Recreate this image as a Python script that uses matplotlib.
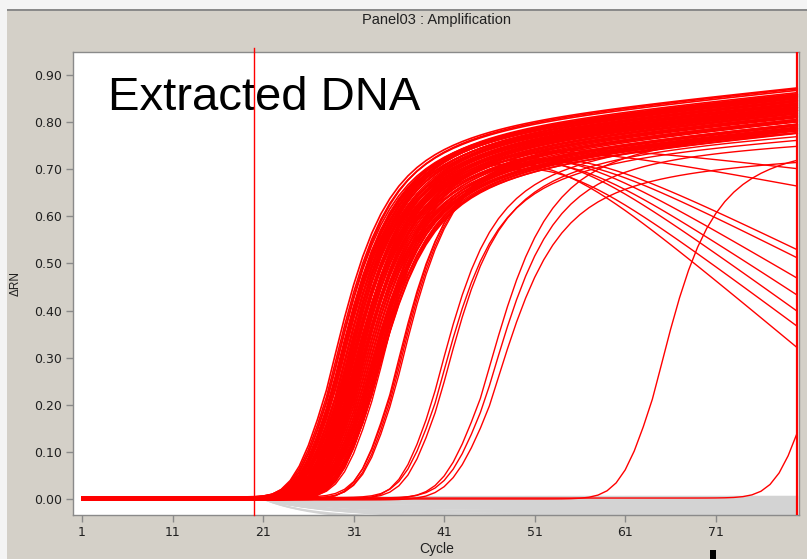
import numpy as np
import matplotlib
matplotlib.use("Agg")
import matplotlib.pyplot as plt
from matplotlib.patches import Rectangle

# ---------------- data ----------------
cycles = np.arange(1, 81)

x_ticks = [1, 11, 21, 31, 41, 51, 61, 71]
y_ticks = [0.00, 0.10, 0.20, 0.30, 0.40, 0.50, 0.60, 0.70, 0.80, 0.90]

# main dense bundle: midpoint cycle and end value (cycle 80)
bundle_mid = [27.9, 28.1, 28.2, 28.3, 28.4, 28.5, 28.6, 28.6, 28.7, 28.8,
              28.8, 28.9, 29.0, 29.0, 29.1, 29.1, 29.2, 29.2, 29.3, 29.3,
              29.4, 29.4, 29.5, 29.5, 29.6, 29.6, 29.7, 29.7, 29.8, 29.8,
              29.9, 29.9, 30.0, 30.0, 30.1, 30.1, 30.2, 30.2, 30.3, 30.3,
              30.4, 30.4, 30.5, 30.5, 30.6, 30.6, 30.7, 30.7, 30.8, 30.8,
              30.9, 30.9, 31.0, 31.0, 31.1, 31.1, 31.2, 31.3, 31.3, 31.4,
              31.5, 31.5, 31.6, 31.7, 31.8, 31.8, 31.9, 32.0, 32.1, 32.2,
              32.3, 32.3, 32.4, 32.5, 32.5]
bundle_end = [0.873, 0.866, 0.860, 0.868, 0.855, 0.862, 0.850, 0.858, 0.845, 0.864,
              0.852, 0.840, 0.856, 0.848, 0.835, 0.860, 0.843, 0.852, 0.830, 0.846,
              0.838, 0.855, 0.826, 0.842, 0.834, 0.850, 0.822, 0.840, 0.830, 0.846,
              0.818, 0.836, 0.826, 0.844, 0.814, 0.832, 0.822, 0.840, 0.810, 0.828,
              0.818, 0.836, 0.806, 0.824, 0.814, 0.832, 0.802, 0.820, 0.810, 0.828,
              0.798, 0.816, 0.806, 0.824, 0.794, 0.812, 0.802, 0.790, 0.808, 0.798,
              0.786, 0.804, 0.794, 0.782, 0.800, 0.790, 0.780, 0.796, 0.786, 0.778,
              0.792, 0.782, 0.788, 0.776, 0.784]
# small baseline offsets of individual wells
base_offset = [0.000, 0.002, -0.001, 0.003, 0.001, -0.002, 0.004, 0.000,
               0.002, -0.001, 0.003, 0.001, 0.000, 0.002, -0.002]

# later curves: midpoint, plateau level, drift, decline rate, decline start, steepness
late_mid = [32.6, 32.8, 33.0, 33.1, 33.3, 35.0, 35.2, 35.3, 35.5,
            39.6, 39.9, 40.3, 45.0, 45.4, 45.8, 64.1, 81.35]
late_end = [0.770, 0.770, 0.770, 0.770, 0.770, 0.770, 0.770, 0.770, 0.770,
            0.780, 0.760, 0.770, 0.780, 0.750, 0.720, 0.755, 0.750]
late_drift = [0.0, 0.0, 0.0, 0.0, 0.0, 0.0, 0.0, 0.0, 0.0,
              0.0015, 0.0015, 0.0015, 0.001, 0.001, 0.001, 0.0, 0.0]
late_decline = [0.0160, 0.0138, 0.0113, 0.0036, 0.0023, 0.0143, 0.0126, 0.0097, 0.0093,
                0.0, 0.0, 0.0, 0.0, 0.0, 0.0, 0.0, 0.0]
late_decline_start = [52, 53, 53.5, 50, 50, 52, 53, 53.5, 54,
                      80, 80, 80, 80, 80, 80, 80, 80]
late_steep = [2.6, 2.6, 2.6, 2.6, 2.6, 2.6, 2.6, 2.6, 2.6,
              2.6, 2.6, 2.6, 3.0, 3.0, 3.0, 2.6, 2.6]

# non-amplifying (grey) traces: level reached and how fast
grey_level = [0.005, 0.003, 0.001, -0.001, -0.003, -0.005, -0.007, -0.009,
              -0.011, -0.013, -0.015, -0.017, -0.019, -0.021, -0.023, -0.025,
              -0.027, -0.029, -0.031, -0.033, -0.036, -0.039, -0.042, -0.046]
grey_tau = [9, 12, 7, 10, 6, 8, 5, 9, 6, 11, 7, 5, 8, 6, 10, 7, 5, 9, 6, 8, 7, 5, 9, 6]

# ---------------- drawing ----------------
def amp_curve(c, mid, end, drift=0.002, steep=2.6, decline=0.0, dstart=80.0, base=0.0):
    nu = 0.4
    rich = (1.0 + nu * np.exp(-(c - mid) / steep)) ** (-1.0 / nu)
    plateau = end + drift * (c - 80) - 0.25 * np.exp(-np.maximum(c - mid, 0) / 8.0)
    t = 4.0
    drop = decline * t * np.log1p(np.exp((c - dstart) / t))
    return rich * plateau - drop + base

W, H = 807, 559
fig = plt.figure(figsize=(W / 100, H / 100), dpi=100, facecolor="#d4d0c8")

# window frame details
fig.patches.append(Rectangle((0, 1 - 9 / H), 1, 9 / H, transform=fig.transFigure,
                             facecolor="#f4f4f4", edgecolor="none", zorder=0))
fig.patches.append(Rectangle((0, 0), 7 / W, 1, transform=fig.transFigure,
                             facecolor="#f4f4f4", edgecolor="none", zorder=0))
fig.patches.append(Rectangle((7 / W, 1 - 11 / H), 1, 2 / H, transform=fig.transFigure,
                             facecolor="#8a8a8a", edgecolor="none", zorder=0))
fig.patches.append(Rectangle((710 / W, 0), 6 / W, 9 / H, transform=fig.transFigure,
                             facecolor="black", edgecolor="none", zorder=5))

ax = fig.add_axes([73 / W, 1 - 515 / H, (799 - 73) / W, (515 - 51.5) / H])
ax.set_facecolor("white")

for lvl, tau in zip(grey_level, grey_tau):
    y = lvl * (1 - np.exp(-np.maximum(cycles - 21, 0) / tau))
    ax.plot(cycles, y, color="#d3d3d3", lw=1.3, zorder=1)

for i, (m, e) in enumerate(zip(bundle_mid, bundle_end)):
    b = base_offset[i % len(base_offset)]
    ax.plot(cycles, amp_curve(cycles, m, e, base=b), color="#ff0000", lw=1.2, zorder=2)

for i, (m, e, d, r, c0, s) in enumerate(zip(late_mid, late_end, late_drift, late_decline,
                                            late_decline_start, late_steep)):
    b = base_offset[i % len(base_offset)]
    ax.plot(cycles, amp_curve(cycles, m, e, d, s, r, c0, b), color="#ff0000", lw=1.0, zorder=2)

ax.axvline(20, color="#ff0000", lw=1.0, zorder=3, clip_on=False, ymax=1.008)
ax.axvline(80, color="#ff0000", lw=1.6, zorder=3)

ax.set_xlim(0, 80.2)
ax.set_ylim(-0.034, 0.95)
ax.set_xticks(x_ticks)
ax.set_xticklabels([str(v) for v in x_ticks])
ax.set_yticks(y_ticks)
ax.set_yticklabels([f"{v:.2f}" for v in y_ticks])
ax.tick_params(direction="out", length=5, width=1, color="#8a8a8a",
               labelsize=9, labelcolor="#202020", pad=3)
for lab in ax.get_xticklabels() + ax.get_yticklabels():
    lab.set_family("DejaVu Sans")
for sp in ax.spines.values():
    sp.set_color("#8a8a8a")
    sp.set_linewidth(1.0)

fig.text(436 / W, 1 - 20 / H, "Panel03 : Amplification", ha="center", va="center",
         fontsize=10.5, family="Liberation Sans", color="#202020")
fig.text(437 / W, 1 - 549 / H, "Cycle", ha="center", va="center",
         fontsize=10, family="Liberation Sans", color="#202020")
fig.text(16 / W, 1 - 283 / H, "ΔRN", ha="center", va="center", rotation=90,
         fontsize=8.5, family="Liberation Sans", color="#202020")

ax.text(108 / W, 1 - 110 / H, "Extracted DNA", transform=fig.transFigure,
        ha="left", va="baseline", fontsize=34, family="Liberation Sans",
        color="black", zorder=1.5)

fig.savefig("out.png", dpi=100, facecolor=fig.get_facecolor())
